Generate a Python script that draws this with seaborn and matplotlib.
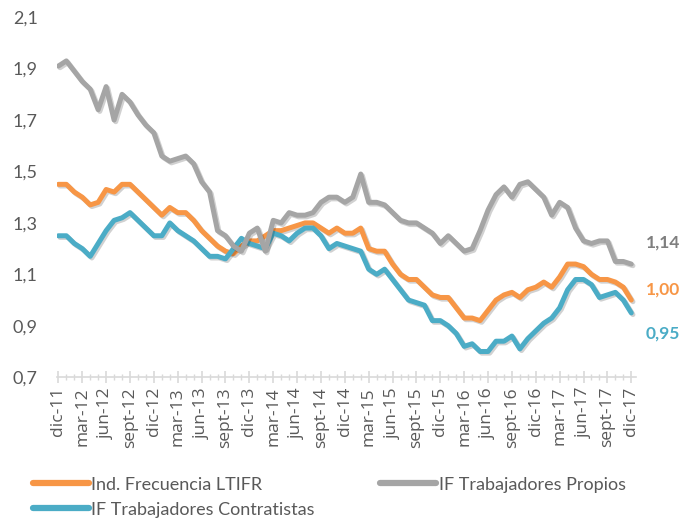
import numpy as np
import pandas as pd
import matplotlib
matplotlib.use("Agg")
import matplotlib.pyplot as plt
import matplotlib.patheffects as pe
from matplotlib.ticker import FixedLocator, FuncFormatter
import seaborn as sns

# monthly values, dic-11 .. dic-17
ltifr = [1.45, 1.45, 1.42, 1.40, 1.37, 1.38, 1.43, 1.42, 1.45, 1.45,
         1.42, 1.39, 1.36, 1.33, 1.36, 1.34, 1.34, 1.31, 1.27, 1.24,
         1.21, 1.19, 1.18, 1.21, 1.23, 1.23, 1.25, 1.27, 1.27, 1.28,
         1.29, 1.30, 1.30, 1.28, 1.26, 1.28, 1.26, 1.26, 1.28, 1.20,
         1.19, 1.19, 1.14, 1.10, 1.08, 1.08, 1.05, 1.02, 1.01, 1.01,
         0.97, 0.93, 0.93, 0.92, 0.96, 1.00, 1.02, 1.03, 1.01, 1.04,
         1.05, 1.07, 1.05, 1.09, 1.14, 1.14, 1.13, 1.10, 1.08, 1.08,
         1.07, 1.05, 1.00]
propios = [1.91, 1.93, 1.89, 1.85, 1.82, 1.74, 1.83, 1.70, 1.80, 1.77,
           1.72, 1.68, 1.65, 1.56, 1.54, 1.55, 1.56, 1.53, 1.46, 1.42,
           1.27, 1.25, 1.21, 1.19, 1.26, 1.28, 1.19, 1.31, 1.30, 1.34,
           1.33, 1.33, 1.34, 1.38, 1.40, 1.40, 1.38, 1.40, 1.49, 1.38,
           1.38, 1.37, 1.34, 1.31, 1.30, 1.30, 1.28, 1.26, 1.22, 1.25,
           1.22, 1.19, 1.20, 1.27, 1.35, 1.41, 1.44, 1.40, 1.45, 1.46,
           1.43, 1.40, 1.33, 1.38, 1.36, 1.28, 1.23, 1.22, 1.23, 1.23,
           1.15, 1.15, 1.14]
contratistas = [1.25, 1.25, 1.22, 1.20, 1.17, 1.22, 1.27, 1.31, 1.32, 1.34,
                1.31, 1.28, 1.25, 1.25, 1.30, 1.27, 1.25, 1.23, 1.20, 1.17,
                1.17, 1.16, 1.20, 1.24, 1.22, 1.21, 1.20, 1.26, 1.25, 1.23,
                1.26, 1.28, 1.28, 1.25, 1.20, 1.22, 1.21, 1.20, 1.19, 1.12,
                1.10, 1.12, 1.08, 1.04, 1.00, 0.99, 0.98, 0.92, 0.92, 0.90,
                0.87, 0.82, 0.83, 0.80, 0.80, 0.84, 0.84, 0.86, 0.81, 0.85,
                0.88, 0.91, 0.93, 0.97, 1.04, 1.08, 1.08, 1.06, 1.01, 1.02,
                1.03, 1.00, 0.95]

tick_labels = ["dic-11", "mar-12", "jun-12", "sept-12", "dic-12", "mar-13",
               "jun-13", "sept-13", "dic-13", "mar-14", "jun-14", "sept-14",
               "dic-14", "mar-15", "jun-15", "sept-15", "dic-15", "mar-16",
               "jun-16", "sept-16", "dic-16", "mar-17", "jun-17", "sept-17",
               "dic-17"]
end_labels = ["1,14", "1,00", "0,95"]

c_orange = "#F79646"
c_gray = "#A5A5A5"
c_blue = "#4BACC6"
txt = "#595959"

sns.set_style("white")
plt.rcParams["font.family"] = ["Lato", "DejaVu Sans"]

months = np.arange(len(ltifr))
df = pd.DataFrame({"m": months, "ltifr": ltifr, "propios": propios,
                   "contratistas": contratistas})

fig = plt.figure(figsize=(6.81, 5.21), dpi=100)
ax = fig.add_axes([0.084, 0.276, 0.85, 0.691])

shadow = [pe.SimpleLineShadow(offset=(1.2, -1.2), alpha=0.18), pe.Normal()]
series = [("ltifr", c_orange, "Ind. Frecuencia LTIFR"),
          ("contratistas", c_blue, "IF Trabajadores Contratistas"),
          ("propios", c_gray, "IF Trabajadores Propios")]
for col, color, name in series:
    sns.lineplot(data=df, x="m", y=col, ax=ax, color=color, lw=3.6,
                 label=name, path_effects=shadow, solid_joinstyle="round")

ax.set_ylim(0.7, 2.1)
ax.set_xlim(-0.15, 72.6)
ax.set_yticks(np.arange(0.7, 2.11, 0.2))
ax.yaxis.set_major_formatter(FuncFormatter(lambda v, p: f"{v:.1f}".replace(".", ",")))
ax.xaxis.set_major_locator(FixedLocator(np.arange(0, 73, 3)))
ax.xaxis.set_minor_locator(FixedLocator(np.arange(0, 73, 1)))
ax.set_xticklabels(tick_labels, rotation=90, fontfamily="Open Sans")
ax.set_xlabel("")
ax.set_ylabel("")

for s in ["top", "right", "left"]:
    ax.spines[s].set_visible(False)
ax.spines["bottom"].set_color("#D9D9D9")
ax.spines["bottom"].set_linewidth(1.2)
ax.tick_params(axis="x", which="major", direction="inout", length=8, width=1.2,
               color="#D9D9D9", labelcolor=txt, labelsize=12.5, pad=3, bottom=True)
ax.tick_params(axis="x", which="minor", direction="inout", length=5, width=1.0,
               color="#D9D9D9", bottom=True)
ax.tick_params(axis="y", length=0, labelcolor=txt, labelsize=13, pad=32)
for lab in ax.get_yticklabels():
    lab.set_horizontalalignment("left")
ax.grid(False)

# end-of-series value labels
last = len(ltifr) - 1
ends = [(propios[-1], 0.085, "#7F7F7F"),
        (ltifr[-1], 0.04, c_orange),
        (contratistas[-1], -0.08, c_blue)]
for (val, shift, color), lab in zip(ends, end_labels):
    ax.text(last + 1.85, val + shift, lab, color=color, fontsize=12.5,
            fontweight="bold", va="center", ha="left", clip_on=False)

handles, labels = ax.get_legend_handles_labels()
ax.get_legend().remove()
leg = fig.legend(handles, labels, ncol=2, loc="upper left",
                 bbox_to_anchor=(0.048, 0.085), frameon=False, fontsize=13,
                 handlelength=3.1, handletextpad=0.15, columnspacing=3.6,
                 labelspacing=0.5, borderaxespad=0, borderpad=0)
for t in leg.get_texts():
    t.set_color(txt)
for h in leg.legend_handles:
    h.set_linewidth(4.5)
    h.set_solid_capstyle("round")
    h.set_path_effects([])

fig.savefig("out.png", dpi=100)
